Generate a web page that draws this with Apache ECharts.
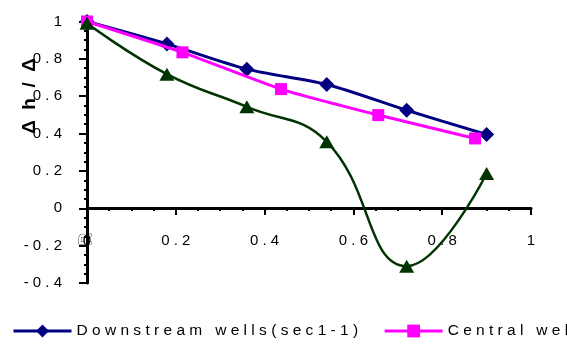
<!DOCTYPE html>
<html>
<head>
<meta charset="utf-8">
<script src="https://cdn.jsdelivr.net/npm/echarts@6/dist/echarts.min.js"></script>
<style>
html,body{margin:0;padding:0;background:#fff;}
#chart{width:567px;height:345px;}
</style>
</head>
<body>
<div id="chart"></div>
<script>
// Data
const seriesNames = ['Downstream wells(sec1-1)', 'Central wells', 'Upstream wells'];
const xDown = [0, 0.18, 0.36, 0.54, 0.72, 0.90];
const yDown = [1.0, 0.88, 0.745, 0.663, 0.525, 0.395];
const xCentral = [0, 0.215, 0.437, 0.656, 0.874];
const yCentral = [1.0, 0.835, 0.638, 0.499, 0.374];
const xUp = [0, 0.18, 0.36, 0.54, 0.72, 0.90];
const yUp = [0.99, 0.718, 0.543, 0.356, -0.31, 0.186];
const xTicks = {min: 0, max: 1, interval: 0.2};
const yTicks = {min: -0.4, max: 1, interval: 0.2};
const yTitle = 'Δh/Δ';
const yTitleExtra = 'R';

const FONT = '"Liberation Sans", Arial, sans-serif';
const spaced = (s, sep) => String(s).split('').join(sep || ' ');
const fmt = v => spaced(String(+Number(v).toFixed(1)));
const pairs = (xs, ys) => xs.map((x, i) => [x, ys[i]]);

const chart = echarts.init(document.getElementById('chart'), null, {renderer: 'canvas'});
chart.setOption({
  animation: false,
  backgroundColor: '#fff',
  grid: {left: 87, right: 36, top: 21.5, bottom: 62, containLabel: false},
  legend: {
    data: seriesNames.slice(0, 2),
    left: 7, top: 318, width: 3000,
    itemWidth: 58, itemHeight: 16, itemGap: 25,
    lineStyle: {width: 3},
    formatter: name => spaced(name),
    textStyle: {fontFamily: FONT, fontSize: 15.5, color: '#000'}
  },
  xAxis: {
    type: 'value', min: xTicks.min, max: xTicks.max, interval: xTicks.interval,
    offset: -75,
    splitLine: {show: false},
    axisLine: {show: true, onZero: false, lineStyle: {color: '#000', width: 3}},
    axisTick: {show: true, length: 7, lineStyle: {color: '#000', width: 2}},
    minorTick: {show: true, splitNumber: 4, length: 3, lineStyle: {color: '#000', width: 2}},
    axisLabel: {margin: 25, formatter: fmt, fontFamily: FONT, fontSize: 15, color: '#000'}
  },
  yAxis: {
    type: 'value', min: yTicks.min, max: yTicks.max, interval: yTicks.interval,
    splitLine: {show: false},
    axisLine: {show: true, onZero: false, lineStyle: {color: '#000', width: 3}},
    axisTick: {show: true, length: 8, lineStyle: {color: '#000', width: 2}},
    minorTick: {show: true, splitNumber: 4, length: 3, lineStyle: {color: '#000', width: 2}},
    axisLabel: {margin: 25, formatter: fmt, fontFamily: FONT, fontSize: 15, color: '#000'}
  },
  graphic: [
    {type: 'text', left: 20, top: 58, rotation: Math.PI / 2,
     style: {text: spaced(yTitle, '  '), font: 'bold 19px ' + FONT, fill: '#000'}},
    {type: 'text', left: 78, top: 233, rotation: Math.PI / 2,
     style: {text: yTitleExtra, font: 'bold 16px ' + FONT, fill: '#fff', stroke: '#444', lineWidth: 1}}
  ],
  series: [
    {
      name: seriesNames[0], type: 'line', data: pairs(xDown, yDown), smooth: 0.3,
      symbol: 'diamond', symbolSize: [15, 15],
      lineStyle: {color: '#000080', width: 3}, itemStyle: {color: '#000080'}, z: 2
    },
    {
      name: seriesNames[1], type: 'line', data: pairs(xCentral, yCentral), smooth: 0.15,
      symbol: 'rect', symbolSize: 12,
      lineStyle: {color: '#ff00ff', width: 3}, itemStyle: {color: '#ff00ff'}, z: 3
    },
    {
      name: seriesNames[2], type: 'line', data: pairs(xUp, yUp), smooth: 0.45,
      symbol: 'triangle', symbolSize: [15, 13],
      lineStyle: {color: '#003300', width: 2.5}, itemStyle: {color: '#003300'}, z: 4
    }
  ]
});
</script>
</body>
</html>
